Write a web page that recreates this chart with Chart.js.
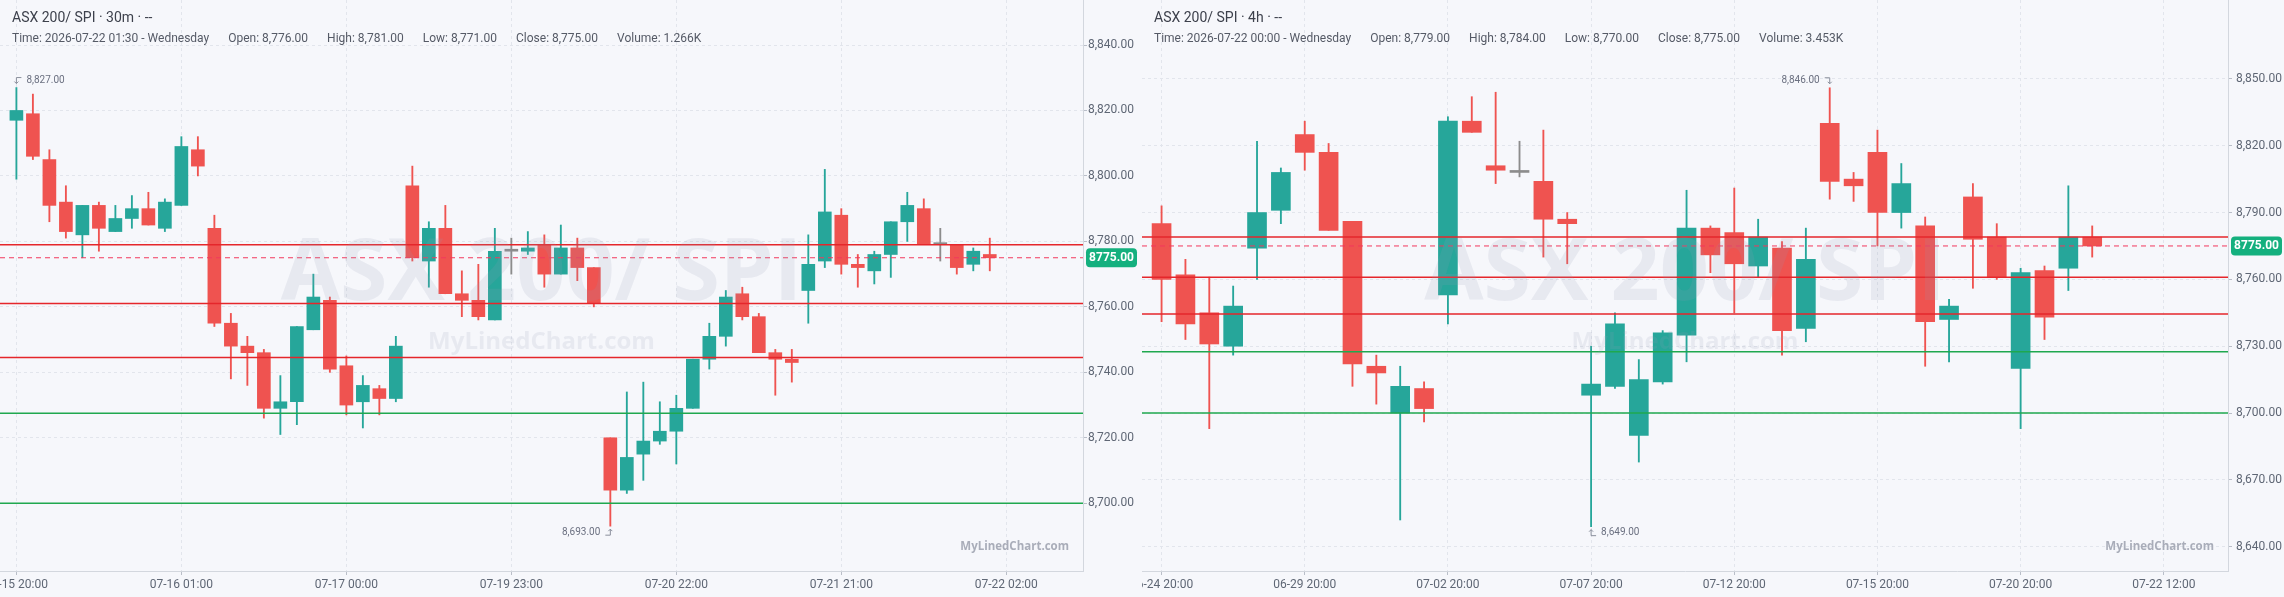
<!DOCTYPE html>
<html>
<head>
<meta charset="utf-8">
<script src="https://cdn.jsdelivr.net/npm/chart.js@4.4.1/dist/chart.umd.min.js"></script>
<style>
html,body{margin:0;padding:0;background:#f6f7fb;width:2284px;height:597px;overflow:hidden;font-family:Roboto,"Noto Sans",sans-serif;}
.panel{position:absolute;top:0;width:1142px;height:597px;}
#pL{left:0;} #pR{left:1142px;}
canvas{display:block;}
.ttl{position:absolute;top:9px;white-space:nowrap;color:#3d414c;font-size:14px;line-height:16px;}
.inf{position:absolute;top:31px;white-space:nowrap;color:#555a66;font-size:12px;line-height:14px;display:flex;gap:19px;}
</style>
</head>
<body>
<div class="panel" id="pL"><canvas id="cL" width="1142" height="597"></canvas></div>
<div class="panel" id="pR"><canvas id="cR" width="1142" height="597"></canvas></div>
<div class="ttl" id="tL" style="left:12px"></div>
<div class="inf" id="iL" style="left:12px"></div>
<div class="ttl" id="tR" style="left:1154px"></div>
<div class="inf" id="iR" style="left:1154px"></div>
<script>
// ---------- DATA ----------
const symbolName = "ASX 200/ SPI";
const siteName = "MyLinedChart.com";

// Left panel: 30m candles
const leftOpen  = [8817,8819,8805,8792,8782,8791,8783,8787,8790,8784,8791,8808,8784,8755,8748,8746,8729,8731,8753,8762,8742,8731,8735,8732,8797,8774,8784,8764,8762,8756,8777,8777,8779,8770,8778,8772,8720,8704,8715,8719,8722,8729,8744,8751,8764,8757,8746,8744,8765,8774,8788,8773,8771,8776,8786,8790,8779,8779,8773,8776];
const leftHigh  = [8827,8825,8808,8797,8791,8792,8791,8794,8795,8793,8812,8812,8788,8758,8751,8747,8739,8754,8770,8763,8745,8739,8736,8751,8803,8786,8791,8771,8773,8784,8781,8783,8782,8785,8781,8772,8720,8734,8737,8731,8733,8744,8755,8765,8766,8758,8747,8747,8782,8802,8790,8776,8777,8786,8795,8793,8784,8779,8778,8781];
const leftLow   = [8799,8805,8786,8781,8775,8777,8783,8784,8785,8783,8791,8800,8754,8738,8736,8726,8721,8724,8753,8740,8727,8723,8727,8731,8774,8766,8764,8757,8756,8756,8770,8776,8766,8770,8768,8760,8693,8703,8707,8718,8712,8729,8741,8748,8756,8746,8733,8737,8755,8772,8770,8766,8767,8769,8780,8779,8774,8770,8771,8771];
const leftClose = [8820,8806,8791,8783,8791,8784,8787,8790,8785,8792,8809,8803,8755,8748,8746,8729,8731,8754,8763,8741,8730,8736,8732,8748,8775,8784,8764,8762,8757,8777,8777,8778,8770,8778,8772,8761,8704,8714,8719,8722,8729,8744,8751,8763,8757,8746,8744,8743,8773,8789,8773,8772,8776,8786,8791,8779,8779,8772,8777,8775];
const leftTickIdx = [0,10,20,30,40,50,60];
const leftTickLabels = ["07-15 20:00","07-16 01:00","07-17 00:00","07-19 23:00","07-20 22:00","07-21 21:00","07-22 02:00"];
const leftYTicks = [8700,8720,8740,8760,8780,8800,8820,8840];
const leftTime = "2026-07-22 01:30 - Wednesday";
const leftVolume = "1.266K";

// Right panel: 4h candles
const rightOpen  = [8785,8762,8745,8730,8774,8791,8825,8817,8786,8721,8700,8711,8753,8831,8811,8808,8804,8787,8708,8712,8690,8714,8735,8783,8781,8766,8774,8738,8830,8805,8817,8790,8784,8742,8797,8779,8720,8764,8765,8779];
const rightHigh  = [8793,8769,8761,8757,8822,8810,8831,8821,8786,8726,8721,8714,8833,8842,8844,8822,8827,8790,8730,8745,8724,8737,8800,8784,8801,8787,8777,8783,8846,8808,8827,8812,8788,8751,8803,8785,8765,8766,8802,8784];
const rightLow   = [8741,8733,8693,8726,8760,8785,8809,8782,8712,8704,8652,8696,8740,8826,8803,8806,8770,8767,8649,8711,8678,8713,8723,8763,8745,8761,8726,8732,8796,8795,8775,8783,8721,8723,8756,8760,8693,8733,8755,8770];
const rightClose = [8760,8740,8731,8748,8790,8808,8817,8782,8722,8718,8712,8702,8831,8826,8809,8808,8787,8785,8713,8740,8715,8736,8783,8771,8767,8779,8737,8769,8804,8802,8790,8803,8741,8748,8778,8761,8763,8743,8779,8775];
const rightTickIdx = [0,6,12,18,24,30,36,42];
const rightTickLabels = ["06-24 20:00","06-29 20:00","07-02 20:00","07-07 20:00","07-12 20:00","07-15 20:00","07-20 20:00","07-22 12:00"];
const rightYTicks = [8640,8670,8700,8730,8760,8790,8820,8850];
const rightTime = "2026-07-22 00:00 - Wednesday";
const rightVolume = "3.453K";

// Horizontal levels (same in both panels)
const redLevels = [8779, 8761, 8744.5];
const greenLevels = [8727.5, 8700];
const lastPrice = 8775;

// ---------- STYLE ----------
const UP = '#26a69a', DOWN = '#ef5350', FLAT = '#8c8c8c';
const LEVEL_RED = '#e5262b', LEVEL_GREEN = '#1fa84f', LAST_LINE = '#f2385c';
const GRID = '#e2e5ec', AXIS = '#d3d7de', TXT = '#5f6775';
Chart.defaults.font.family = 'Roboto, "Noto Sans", sans-serif';

function fmt2(v){ return v.toLocaleString('en-US',{minimumFractionDigits:2,maximumFractionDigits:2}); }

function setHeader(tId, iId, interval, p, time, vol){
  const n = p.open.length - 1;
  document.getElementById(tId).textContent = symbolName + " \u00b7 " + interval + " \u00b7 --";
  const items = ["Time: " + time, "Open: " + fmt2(p.open[n]), "High: " + fmt2(p.high[n]),
                 "Low: " + fmt2(p.low[n]), "Close: " + fmt2(p.close[n]), "Volume: " + vol];
  const el = document.getElementById(iId);
  items.forEach(s => { const sp = document.createElement('span'); sp.textContent = s; el.appendChild(sp); });
}

function drawMark(ctx, x, yWick, text, isHigh, textLeft){
  const dir = textLeft ? -1 : 1;
  const ty = isHigh ? yWick - 7 : yWick + 6;
  const yh = isHigh ? ty - 3 : ty + 3;
  const ya = isHigh ? ty + 3 : ty - 3;
  ctx.save();
  ctx.strokeStyle = '#8a8f9c'; ctx.lineWidth = 1;
  ctx.beginPath();
  ctx.moveTo(x + dir*5, yh); ctx.lineTo(x, yh); ctx.lineTo(x, ya);
  const s = isHigh ? -2 : 2;
  ctx.moveTo(x-2, ya+s); ctx.lineTo(x, ya); ctx.lineTo(x+2, ya+s);
  ctx.stroke();
  ctx.fillStyle = '#6b7080';
  ctx.font = '10px Roboto, sans-serif';
  ctx.textBaseline = 'middle';
  ctx.textAlign = textLeft ? 'right' : 'left';
  ctx.fillText(text, x + dir*10, ty);
  ctx.restore();
}

function buildPanel(canvasId, p){
  const colors = p.open.map((o,i) => p.close[i] > o ? UP : (p.close[i] < o ? DOWN : FLAT));
  const datasets = [
    {type:'bar', data:p.open.map((o,i)=>({x:i, y:[p.low[i], p.high[i]]})), backgroundColor:colors,
     barThickness:1.2, grouped:false, order:5, minBarLength:1, borderWidth:0},
    {type:'bar', data:p.open.map((o,i)=>({x:i, y:[o, p.close[i]]})), backgroundColor:colors,
     barThickness:p.bodyWidth, grouped:false, order:4, minBarLength:2, borderWidth:0}
  ];
  redLevels.forEach(v => datasets.push({type:'line', data:[{x:p.xMin,y:v},{x:p.xMax,y:v}],
     borderColor:LEVEL_RED, borderWidth:1.5, pointRadius:0, order:2}));
  greenLevels.forEach(v => datasets.push({type:'line', data:[{x:p.xMin,y:v},{x:p.xMax,y:v}],
     borderColor:LEVEL_GREEN, borderWidth:1.5, pointRadius:0, order:2}));
  datasets.push({type:'line', data:[{x:p.xMin,y:lastPrice},{x:p.xMax,y:lastPrice}],
     borderColor:LAST_LINE, borderWidth:1, borderDash:[5,4], pointRadius:0, order:1});

  const overlay = {
    id:'overlay'+canvasId,
    afterDatasetsDraw(chart){
      const ctx = chart.ctx, ca = chart.chartArea;
      const xs = chart.scales.x, ys = chart.scales.y;
      ctx.save();
      ctx.beginPath(); ctx.rect(ca.left, ca.top, ca.right-ca.left, ca.bottom-ca.top); ctx.clip();
      const cx = (ca.left + ca.right)/2;
      ctx.fillStyle = 'rgba(150,156,180,0.15)';
      ctx.textAlign = 'center'; ctx.textBaseline = 'alphabetic';
      ctx.font = '700 86px "Open Sans", sans-serif';
      ctx.fillText(symbolName, cx, ca.top + 300);
      ctx.font = '700 24px "Open Sans", sans-serif';
      ctx.fillText(siteName, cx, ca.top + 349);
      ctx.fillStyle = '#a9adb9';
      ctx.textAlign = 'right'; ctx.textBaseline = 'middle';
      ctx.font = '700 11.5px "Open Sans", sans-serif';
      ctx.fillText(siteName, ca.right - 14, ca.bottom - 24);
      ctx.restore();
      // high / low markers
      let hi = 0, lo = 0;
      p.high.forEach((v,i)=>{ if (v > p.high[hi]) hi = i; });
      p.low.forEach((v,i)=>{ if (v < p.low[lo]) lo = i; });
      const xh = xs.getPixelForValue(hi), xl = xs.getPixelForValue(lo);
      drawMark(ctx, xh, ys.getPixelForValue(p.high[hi]), fmt2(p.high[hi]), true, xh > cx);
      drawMark(ctx, xl, ys.getPixelForValue(p.low[lo]), fmt2(p.low[lo]), false, xl > cx);
    },
    afterDraw(chart){
      const ctx = chart.ctx, ca = chart.chartArea, ys = chart.scales.y;
      const y = ys.getPixelForValue(lastPrice);
      const bx = ca.right + 3, bw = 51, bh = 19;
      ctx.save();
      ctx.fillStyle = '#14b07e';
      ctx.beginPath();
      ctx.roundRect(bx, y - bh/2, bw, bh, 4);
      ctx.fill();
      ctx.fillStyle = '#ffffff';
      ctx.font = '700 12px Roboto, sans-serif';
      ctx.textAlign = 'center'; ctx.textBaseline = 'middle';
      ctx.fillText(lastPrice.toFixed(2), bx + bw/2, y + 0.5);
      ctx.restore();
    }
  };

  return new Chart(document.getElementById(canvasId), {
    type:'bar',
    data:{datasets},
    options:{
      responsive:false, animation:false, devicePixelRatio:1, events:[],
      layout:{padding:0},
      plugins:{legend:{display:false}, tooltip:{enabled:false}},
      scales:{
        x:{type:'linear', min:p.xMin, max:p.xMax, offset:false,
           grid:{color:GRID, offset:false, drawTicks:true, tickLength:4, tickColor:'#b9bec8'},
           border:{display:true, color:AXIS, dash:[3,3]},
           ticks:{autoSkip:false, maxRotation:0, minRotation:0, color:TXT, font:{size:12}, padding:3,
                  callback:(v)=>{ const k = p.tickIdx.indexOf(v); return k < 0 ? '' : p.tickLabels[k]; }},
           afterBuildTicks:(s)=>{ s.ticks = p.tickIdx.map(v=>({value:v})); },
           afterFit:(s)=>{ s.height = 26; s.paddingLeft = 0; s.paddingRight = 0; }
        },
        y:{type:'linear', position:'right', min:p.yMin, max:p.yMax, beginAtZero:false,
           grid:{color:GRID, drawTicks:true, tickLength:4, tickColor:'#b9bec8'},
           border:{display:true, color:AXIS, dash:[3,3]},
           ticks:{color:TXT, font:{size:12}, padding:p.yPad, callback:(v)=>fmt2(v)},
           afterBuildTicks:(s)=>{ s.ticks = p.yTicks.map(v=>({value:v})); },
           afterFit:(s)=>{ s.width = p.yWidth; s.paddingTop = 0; s.paddingBottom = 0; }
        }
      }
    },
    plugins:[overlay]
  });
}

const leftPanel = {open:leftOpen, high:leftHigh, low:leftLow, close:leftClose,
  tickIdx:leftTickIdx, tickLabels:leftTickLabels, yTicks:leftYTicks,
  xMin:-0.994, xMax:64.65, yMin:8679.3, yMax:8853.75, yWidth:59, yPad:1, bodyWidth:13};
const rightPanel = {open:rightOpen, high:rightHigh, low:rightLow, close:rightClose,
  tickIdx:rightTickIdx, tickLabels:rightTickLabels, yTicks:rightYTicks,
  xMin:-0.82, xMax:44.69, yMin:8629.1, yMax:8885.4, yWidth:56, yPad:4, bodyWidth:19};

setHeader('tL','iL','30m', leftPanel, leftTime, leftVolume);
setHeader('tR','iR','4h', rightPanel, rightTime, rightVolume);
buildPanel('cL', leftPanel);
buildPanel('cR', rightPanel);
</script>
</body>
</html>
